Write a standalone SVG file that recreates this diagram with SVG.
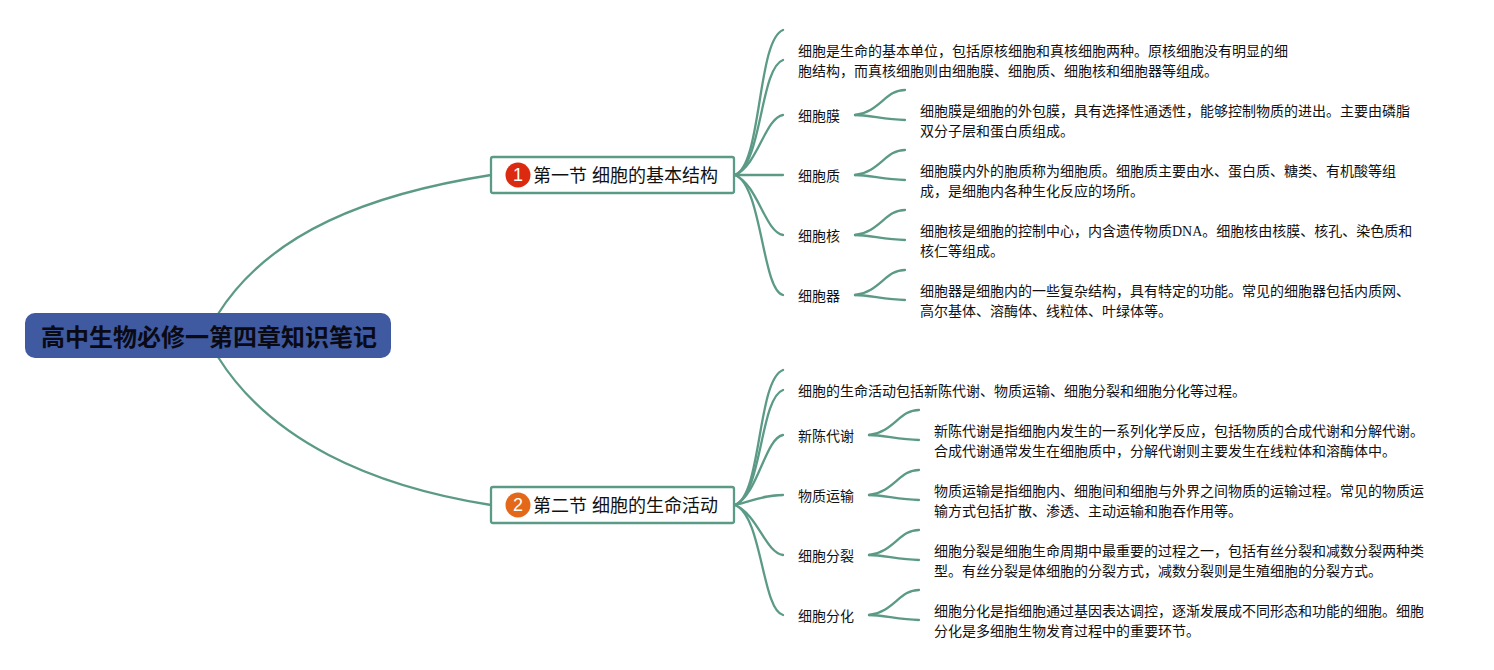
<svg xmlns="http://www.w3.org/2000/svg" width="1494" height="670" viewBox="0 0 1494 670">
<style>
text{font-family:"Noto Sans CJK SC","Noto Sans",sans-serif;fill:#111}
.t{font-size:14px}
.s{font-size:18px;word-spacing:1px}
.r{font-size:24px;font-weight:700;fill:#0a0a14}
.n{font-size:18px;fill:#fff;font-family:"Liberation Sans",sans-serif;text-anchor:middle}
.l{font-family:"Liberation Serif",serif}
.c path{fill:none;stroke:#5b9a86;stroke-width:2.3;stroke-linecap:round}
.b{fill:#fff;stroke:#5b9a86;stroke-width:2.3}
</style>
<rect width="1494" height="670" fill="#fff"/>
<g class="c" id="connectors">
<path d="M218 314C270 232 370 194 491 175"/>
<path d="M218 357C270 440 370 486 491 505"/>
<path d="M735 175C762 165 757 40 783 30"/>
<path d="M735 175C762 165 760 68 783 60"/>
<path d="M735 175C758 165 765 118 783 115"/>
<path d="M735 175H783"/>
<path d="M735 175C758 185 765 232 783 235"/>
<path d="M735 175C762 185 762 290 783 295"/>
<path d="M855 115C880 112 885 90 905 90"/>
<path d="M855 115C870 115 885 120 905 120"/>
<path d="M855 175C880 172 885 150 905 150"/>
<path d="M855 175C870 175 885 180 905 180"/>
<path d="M855 235C880 232 885 210 905 210"/>
<path d="M855 235C870 235 885 240 905 240"/>
<path d="M855 295C880 292 885 270 905 270"/>
<path d="M855 295C870 295 885 300 905 300"/>
<path d="M735 505C762 495 757 380 783 370"/>
<path d="M735 505C762 495 760 398 783 390"/>
<path d="M735 505C758 495 765 438 783 435"/>
<path d="M735 505C755 500 765 495 783 495"/>
<path d="M735 505C758 515 765 552 783 555"/>
<path d="M735 505C762 515 762 610 783 615"/>
<path d="M869 435C894 432 899 410 919 410"/>
<path d="M869 435C884 435 899 440 919 440"/>
<path d="M869 495C894 492 899 470 919 470"/>
<path d="M869 495C884 495 899 500 919 500"/>
<path d="M869 555C894 552 899 530 919 530"/>
<path d="M869 555C884 555 899 560 919 560"/>
<path d="M869 615C894 612 899 590 919 590"/>
<path d="M869 615C884 615 899 620 919 620"/>
</g>
<g id="root"><rect x="25" y="313" width="366" height="45" rx="10" fill="#3f5aa0"/><text class="r" x="41" y="346">高中生物必修一第四章知识笔记</text></g>
<g id="sec1"><rect class="b" x="491" y="157" width="243" height="36" rx="2"/><circle cx="518" cy="175" r="12.5" fill="#dc2a10"/><text class="n" x="518" y="181">1</text><text class="s" x="533" y="182">第一节 细胞的基本结构</text></g>
<g id="sec2"><rect class="b" x="491" y="487" width="243" height="36" rx="2"/><circle cx="518" cy="505" r="12.5" fill="#e4681a"/><text class="n" x="518" y="511">2</text><text class="s" x="533" y="512">第二节 细胞的生命活动</text></g>
<g id="n1"><text class="t" x="798" y="56">细胞是生命的基本单位，包括原核细胞和真核细胞两种。原核细胞没有明显的细</text><text class="t" x="798" y="76">胞结构，而真核细胞则由细胞膜、细胞质、细胞核和细胞器等组成。</text></g>
<g id="n2"><text class="t" x="798" y="121">细胞膜</text></g>
<g id="n3"><text class="t" x="920" y="116">细胞膜是细胞的外包膜，具有选择性通透性，能够控制物质的进出。主要由磷脂</text><text class="t" x="920" y="136">双分子层和蛋白质组成。</text></g>
<g id="n4"><text class="t" x="798" y="181">细胞质</text></g>
<g id="n5"><text class="t" x="920" y="176">细胞膜内外的胞质称为细胞质。细胞质主要由水、蛋白质、糖类、有机酸等组</text><text class="t" x="920" y="196">成，是细胞内各种生化反应的场所。</text></g>
<g id="n6"><text class="t" x="798" y="241">细胞核</text></g>
<g id="n7"><text class="t" x="920" y="236">细胞核是细胞的控制中心，内含遗传物质<tspan class="l">DNA</tspan>。细胞核由核膜、核孔、染色质和</text><text class="t" x="920" y="256">核仁等组成。</text></g>
<g id="n8"><text class="t" x="798" y="301">细胞器</text></g>
<g id="n9"><text class="t" x="920" y="296">细胞器是细胞内的一些复杂结构，具有特定的功能。常见的细胞器包括内质网、</text><text class="t" x="920" y="316">高尔基体、溶酶体、线粒体、叶绿体等。</text></g>
<g id="n10"><text class="t" x="798" y="396">细胞的生命活动包括新陈代谢、物质运输、细胞分裂和细胞分化等过程。</text></g>
<g id="n11"><text class="t" x="798" y="441">新陈代谢</text></g>
<g id="n12"><text class="t" x="934" y="436">新陈代谢是指细胞内发生的一系列化学反应，包括物质的合成代谢和分解代谢。</text><text class="t" x="934" y="456">合成代谢通常发生在细胞质中，分解代谢则主要发生在线粒体和溶酶体中。</text></g>
<g id="n13"><text class="t" x="798" y="501">物质运输</text></g>
<g id="n14"><text class="t" x="934" y="496">物质运输是指细胞内、细胞间和细胞与外界之间物质的运输过程。常见的物质运</text><text class="t" x="934" y="516">输方式包括扩散、渗透、主动运输和胞吞作用等。</text></g>
<g id="n15"><text class="t" x="798" y="561">细胞分裂</text></g>
<g id="n16"><text class="t" x="934" y="556">细胞分裂是细胞生命周期中最重要的过程之一，包括有丝分裂和减数分裂两种类</text><text class="t" x="934" y="576">型。有丝分裂是体细胞的分裂方式，减数分裂则是生殖细胞的分裂方式。</text></g>
<g id="n17"><text class="t" x="798" y="621">细胞分化</text></g>
<g id="n18"><text class="t" x="934" y="616">细胞分化是指细胞通过基因表达调控，逐渐发展成不同形态和功能的细胞。细胞</text><text class="t" x="934" y="636">分化是多细胞生物发育过程中的重要环节。</text></g>
</svg>
